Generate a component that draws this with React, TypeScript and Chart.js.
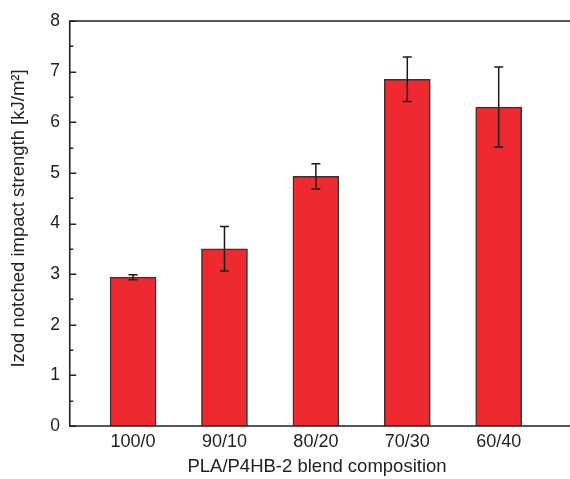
import React, { useEffect, useRef } from "react";
import { Chart, registerables } from "chart.js";

Chart.register(...registerables);

const categories = ["100/0", "90/10", "80/20", "70/30", "60/40"];
const strengthValues = [2.94, 3.5, 4.93, 6.85, 6.3];
const strengthErrors = [0.05, 0.44, 0.25, 0.44, 0.79];
const yTicks = [0, 1, 2, 3, 4, 5, 6, 7, 8];
const xTitle = "PLA/P4HB-2 blend composition";
const yTitle = "Izod notched impact strength [kJ/m\u00B2]";

const FONT = "'Liberation Sans', Arial, Helvetica, sans-serif";
const AXIS_COLOR = "#222222";

const framePlugin = {
  id: "frame",
  afterDatasetsDraw(chart: any) {
    const { ctx, chartArea, scales } = chart;
    const y = scales.y;
    const meta = chart.getDatasetMeta(0);
    ctx.save();
    // error bars
    ctx.strokeStyle = "#1a1a1a";
    ctx.lineWidth = 1.5;
    meta.data.forEach((bar: any, i: number) => {
      const v = strengthValues[i];
      const e = strengthErrors[i];
      const top = y.getPixelForValue(v + e);
      const bot = y.getPixelForValue(v - e);
      const x = bar.x;
      const cap = 4.5;
      ctx.beginPath();
      ctx.moveTo(x, top);
      ctx.lineTo(x, bot);
      ctx.moveTo(x - cap, top);
      ctx.lineTo(x + cap, top);
      ctx.moveTo(x - cap, bot);
      ctx.lineTo(x + cap, bot);
      ctx.stroke();
    });
    // frame
    ctx.strokeStyle = AXIS_COLOR;
    ctx.lineWidth = 1.6;
    const L = chartArea.left - 0.25;
    const T = chartArea.top;
    const B = chartArea.bottom;
    const R = chartArea.right;
    ctx.beginPath();
    ctx.moveTo(L, T);
    ctx.lineTo(L, B);
    ctx.moveTo(L - 0.8, B);
    ctx.lineTo(R, B);
    ctx.moveTo(L - 0.8, T);
    ctx.lineTo(R, T);
    ctx.stroke();
    // inward ticks
    ctx.lineWidth = 1.5;
    ctx.beginPath();
    for (let t = 0; t <= 8; t += 0.5) {
      const py = Math.round(y.getPixelForValue(t)) + 0.25;
      const len = Number.isInteger(t) ? 6.5 : 3.5;
      ctx.moveTo(L, py);
      ctx.lineTo(L + len, py);
    }
    ctx.stroke();
    // titles
    ctx.fillStyle = "#222222";
    ctx.font = `18.5px ${FONT}`;
    ctx.textAlign = "center";
    ctx.textBaseline = "middle";
    ctx.fillText(xTitle, (chartArea.left + chartArea.right) / 2 - 3, 467);
    ctx.translate(19, 218.5);
    ctx.rotate(-Math.PI / 2);
    ctx.fillText(yTitle, 0, 0);
    ctx.restore();
  },
};

export default function App() {
  const canvasRef = useRef<HTMLCanvasElement | null>(null);

  useEffect(() => {
    if (!canvasRef.current) return;
    const chart = new Chart(canvasRef.current, {
      type: "bar",
      data: {
        datasets: [
          {
            data: strengthValues.map((v, i) => ({ x: i + 1, y: v })),
            backgroundColor: "#ee2a30",
            borderColor: "#333333",
            borderWidth: 1.5,
            barThickness: 46,
          },
        ],
      },
      plugins: [framePlugin],
      options: {
        responsive: false,
        animation: false,
        layout: { padding: { top: 21, right: 0, left: 0, bottom: 0 } },
        plugins: {
          legend: { display: false },
          tooltip: { enabled: false },
        },
        scales: {
          x: {
            type: "linear",
            offset: false,
            min: 0.31,
            max: 5.78,
            grid: { display: false, drawTicks: false, offset: false },
            border: { display: false },
            afterBuildTicks: (scale: any) => {
              scale.ticks = categories.map((_, i) => ({ value: i + 1 }));
            },
            afterFit: (scale: any) => {
              scale.height = 53;
            },
            ticks: {
              autoSkip: false,
              maxRotation: 0,
              padding: 5,
              color: "#222222",
              font: { family: FONT, size: 18 },
              callback: (v: any) => categories[Math.round(Number(v)) - 1] ?? "",
            },
          },
          y: {
            min: 0,
            max: 8,
            grid: { display: false, drawTicks: false },
            border: { display: false },
            afterBuildTicks: (scale: any) => {
              scale.ticks = yTicks.map((v) => ({ value: v }));
            },
            afterFit: (scale: any) => {
              scale.width = 70;
            },
            ticks: {
              padding: 10,
              color: "#222222",
              font: { family: FONT, size: 17.5 },
            },
          },
        },
      },
    } as any);
    return () => chart.destroy();
  }, []);

  return (
    <div style={{ position: "absolute", left: 0, top: 0, width: 570, height: 479, background: "#fff" }}>
      <canvas ref={canvasRef} width={570} height={479} />
    </div>
  );
}
